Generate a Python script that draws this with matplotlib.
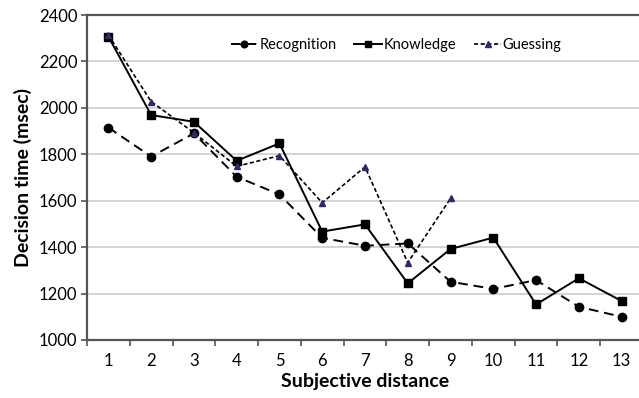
import matplotlib.pyplot as plt
from matplotlib.ticker import FixedLocator

plt.rcParams['font.family'] = ['Lato', 'DejaVu Sans']

distance = list(range(1, 14))
recognition = [1915, 1790, 1890, 1703, 1627, 1440, 1406, 1416, 1251, 1220, 1258, 1143, 1100]
knowledge = [2307, 1969, 1940, 1772, 1847, 1467, 1498, 1244, 1392, 1441, 1153, 1266, 1168]
guessing_x = list(range(1, 10))
guessing = [2314, 2027, 1893, 1748, 1794, 1591, 1746, 1333, 1610]

fig = plt.figure(figsize=(6.39, 3.98), dpi=100)
ax = fig.add_axes([87 / 639, 58 / 398, 556 / 639, 325 / 398])

ax.plot(distance, recognition, color='black', linestyle=(0, (5, 3)), linewidth=1.4,
        marker='o', markersize=6, label='Recognition')
ax.plot(distance, knowledge, color='black', linestyle='-', linewidth=1.4,
        marker='s', markersize=6, label='Knowledge')
ax.plot(guessing_x, guessing, color='black', linestyle=(0, (2.5, 1.5)), linewidth=1.2,
        marker='^', markersize=5, markerfacecolor='#2b2b6b', markeredgecolor='#2b2b6b',
        label='Guessing')

ax.set_xlim(0.5, 13.5)
ax.set_ylim(1000, 2400)
ax.set_yticks(range(1000, 2401, 200))
ax.set_xticks(distance)
ax.xaxis.set_minor_locator(FixedLocator([i + 0.5 for i in range(0, 14)]))
ax.tick_params(axis='x', which='major', length=0, labelsize=12, pad=9)
ax.tick_params(axis='x', which='minor', length=4, width=1.2, color='#555555', direction='out')
ax.tick_params(axis='y', length=4, width=1.2, color='#555555', labelsize=12, pad=3)

ax.grid(axis='y', color='#cccccc', linewidth=1.2)
ax.set_axisbelow(True)
for side in ['left', 'bottom', 'top']:
    ax.spines[side].set_color('#555555')
    ax.spines[side].set_linewidth(1.6)
ax.spines['right'].set_visible(False)

ax.set_xlabel('Subjective distance', fontsize=14, fontweight='bold', labelpad=3)
ax.set_ylabel('Decision time (msec)', fontsize=14, fontweight='bold', labelpad=5)

ax.legend(loc='upper center', bbox_to_anchor=(0.556, 0.97), ncol=3, frameon=False,
          fontsize=10.5, handlelength=1.9, columnspacing=1.2, handletextpad=0.1,
          markerscale=0.8)

fig.savefig('out.png', dpi=100)
